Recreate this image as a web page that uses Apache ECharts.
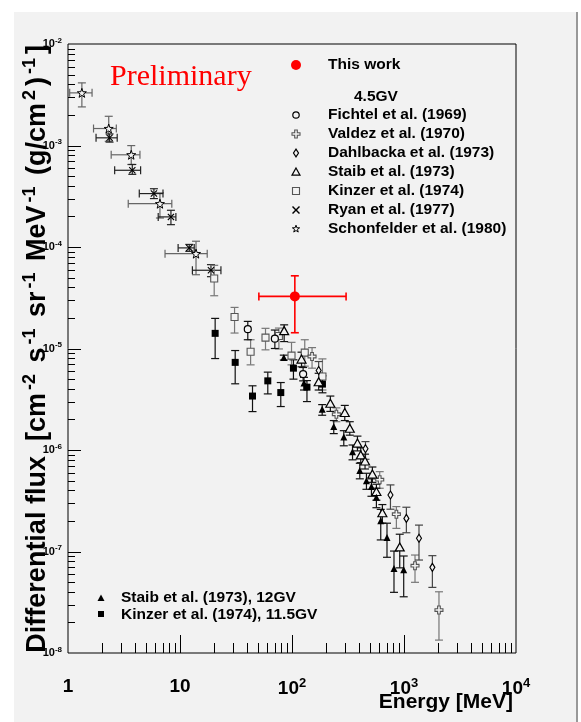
<!DOCTYPE html>
<html><head><meta charset="utf-8">
<script src="https://cdn.jsdelivr.net/npm/echarts@6/dist/echarts.min.js"></script>
<style>html,body{margin:0;padding:0;background:#fff}#c{width:581px;height:722px}</style>
</head><body><div id="c"></div>
<script>
// ---- data: [Energy MeV, flux, fluxLow, fluxHigh, (energyLow, energyHigh)] ----
const thisWork = [[106, 3.26e-5, 1.43e-5, 5.2e-5, 50.6, 304]];
const fichtel = [[40.3,1.55e-5,1.22e-5,1.85e-5],[70.3,1.25e-5,1.0e-5,1.52e-5],[125.7,5.6e-6,4.8e-6,6.5e-6]];
const valdez = [[151,8.34e-6,6.4e-6,1.02e-5],[249,2.25e-6,1.9e-6,2.6e-6],[607,5.1e-7,4.2e-7,6.12e-7],[855,2.33e-7,1.69e-7,2.77e-7],[1254,7.24e-8,4.97e-8,9.23e-8],[2052,2.65e-8,1.34e-8,4.01e-8]];
const dahlbacka = [[173,6.07e-6,4.39e-6,7.44e-6],[453,1.03e-6,8.1e-7,1.21e-6],[757,3.6e-7,2.61e-7,4.53e-7],[1050,2.12e-7,1.53e-7,2.73e-7],[1361,1.35e-7,8.24e-8,1.82e-7],[1792,6.98e-8,4.43e-8,9.1e-8]];
const staib45 = [[85.1,1.5e-5,1.17e-5,1.71e-5],[121.6,7.86e-6,6.6e-6,9.2e-6],[173,4.7e-6,3.9e-6,5.7e-6],[220,2.89e-6,2.4e-6,3.4e-6],[296,2.34e-6,1.95e-6,2.75e-6],[328,1.64e-6,1.4e-6,1.9e-6],[384,1.17e-6,9.8e-7,1.37e-6],[411,8.95e-7,7.5e-7,1.05e-6],[449,7.8e-7,6.5e-7,9.1e-7],[522,5.8e-7,4.8e-7,6.8e-7],[567,3.9e-7,3.2e-7,4.6e-7],[641,2.41e-7,1.9e-7,2.9e-7],[916,1.11e-7,6.9e-8,1.48e-7]];
const kinzer45 = [[20.2,4.9e-5,3.31e-5,6.6e-5],[30.7,2.04e-5,1.42e-5,2.54e-5],[42.7,9.3e-6,6.9e-6,1.22e-5],[58,1.28e-5,9.7e-6,1.58e-5],[76.4,1.33e-5,9.9e-6,1.59e-5],[99,8.5e-6,6.9e-6,1.15e-5],[130,9.1e-6,6.7e-6,1.22e-5],[187,5.3e-6,3.9e-6,7.9e-6]];
const ryan = [[2.35,1.19e-3,1.08e-3,1.30e-3,1.78,2.75],[3.75,5.7e-4,5.2e-4,6.5e-4,2.61,4.45],[5.85,3.36e-4,3.0e-4,3.75e-4,4.33,7.05],[8.3,1.98e-4,1.66e-4,2.30e-4,6.39,9.19],[12.1,9.8e-5,9.06e-5,1.06e-4,9.62,13.4],[18.9,5.9e-5,5.1e-5,6.7e-5,12.9,23.2]];
const schonfelder = [[1.33,3.3e-3,2.40e-3,4.14e-3,1.035,1.64],[2.31,1.47e-3,1.1e-3,1.94e-3,1.69,2.70],[3.67,8.1e-4,6.5e-4,9.98e-4,2.43,4.39],[6.62,2.67e-4,1.93e-4,3.41e-4,3.45,8.45],[13.9,8.6e-5,5.33e-5,1.14e-4,7.35,17.5]];
const staib12 = [[84.5,8.15e-6,7.7e-6,8.6e-6],[128,4.56e-6,3.9e-6,5.2e-6],[186,2.52e-6,2.2e-6,2.8e-6],[236,1.70e-6,1.45e-6,1.95e-6],[290,1.34e-6,1.1e-6,1.55e-6],[347,9.6e-7,8.0e-7,1.12e-6],[403,6.27e-7,5.2e-7,7.4e-7],[462,4.99e-7,4.1e-7,5.9e-7],[512,4.36e-7,3.5e-7,5.2e-7],[567,3.42e-7,2.7e-7,4.2e-7],[620,2.01e-7,1.3e-7,2.6e-7],[705,1.37e-7,8.77e-8,1.90e-7],[814,6.8e-8,3.96e-8,1.01e-7],[994,6.6e-8,3.58e-8,9.03e-8]];
const kinzer115 = [[20.6,1.41e-5,7.96e-6,1.98e-5],[31.1,7.3e-6,4.49e-6,9.55e-6],[44.4,3.4e-6,2.39e-6,4.29e-6],[60.8,4.8e-6,3.57e-6,5.85e-6],[79.4,3.68e-6,2.68e-6,4.62e-6],[103,6.4e-6,4.99e-6,7.74e-6],[136,4.16e-6,3.0e-6,4.83e-6],[187,4.46e-6,3.66e-6,5.38e-6]];
const xTickLabels = ['1','10','10^2','10^3','10^4'];
const legendTop = ['This work','4.5GV','Fichtel et al. (1969)','Valdez et al. (1970)','Dahlbacka et al. (1973)','Staib et al. (1973)','Kinzer et al. (1974)','Ryan et al. (1977)','Schonfelder et al. (1980)'];
const legendBottom = ['Staib et al. (1973), 12GV','Kinzer et al. (1974), 11.5GV'];

const BG = '#f2f2f2';
const FONT = '"Liberation Sans", Arial, Helvetica, sans-serif';
const STAR = 'path://M0,-10 L2.35,-3.24 L9.51,-3.09 L3.8,1.24 L5.88,8.09 L0,4 L-5.88,8.09 L-3.8,1.24 L-9.51,-3.09 L-2.35,-3.24 Z';
const PLUS = 'path://M-3,-9 L3,-9 L3,-3 L9,-3 L9,3 L3,3 L3,9 L-3,9 L-3,3 L-9,3 L-9,-3 L-3,-3 Z';
const XMK = 'path://M-9,-7 L-7,-9 L0,-2 L7,-9 L9,-7 L2,0 L9,7 L7,9 L0,2 L-7,9 L-9,7 L-2,0 Z';

function errSeries(data, color, lw) {
  return {
    type: 'custom', data: data, z: 2, silent: true, clip: false,
    dimensions: ['E','F','lo','hi','elo','ehi'],
    encode: {x: 0, y: 1},
    renderItem: function (params, api) {
      const E = api.value(0), F = api.value(1), lo = api.value(2), hi = api.value(3), elo = api.value(4), ehi = api.value(5);
      const c = api.coord([E, F]);
      const st = {stroke: color, lineWidth: lw || 1.2};
      const ch = [];
      const L = (x1,y1,x2,y2) => ch.push({type:'line', shape:{x1,y1,x2,y2}, style: st});
      const cap = 4;
      if (isFinite(lo) && isFinite(hi) && lo > 0) {
        const a = api.coord([E, hi]), b = api.coord([E, lo]);
        L(c[0], a[1], c[0], b[1]);
        L(c[0]-cap, a[1], c[0]+cap, a[1]);
        L(c[0]-cap, b[1], c[0]+cap, b[1]);
      }
      if (isFinite(elo) && isFinite(ehi) && elo > 0) {
        const a = api.coord([elo, F]), b = api.coord([ehi, F]);
        L(a[0], c[1], b[0], c[1]);
        L(a[0], c[1]-cap, a[0], c[1]+cap);
        L(b[0], c[1]-cap, b[0], c[1]+cap);
      }
      return {type: 'group', children: ch};
    }
  };
}
function mkSeries(name, data, symbol, size, fill, border, bw) {
  return {
    name: name, type: 'scatter', z: 3, data: data.map(r => [r[0], r[1]]),
    symbol: symbol, symbolSize: size,
    itemStyle: {color: fill, borderColor: border, borderWidth: bw || 0, opacity: 1},
    emphasis: {disabled: true}
  };
}

const ticksSeries = {
  type: 'custom', data: [[1, 1e-8]], z: 4, silent: true, clip: false,
  renderItem: function (params, api) {
    const ch = [];
    const st = {stroke: '#000', lineWidth: 1};
    const y0 = api.coord([1, 1e-8])[1];
    const x0 = api.coord([1, 1e-8])[0];
    for (let d = 0; d < 4; d++) for (let k = 1; k <= 9; k++) {
      const v = k * Math.pow(10, d);
      if (v <= 1) continue;
      const x = Math.round(api.coord([v, 1e-8])[0]) + 0.5;
      const len = k === 1 ? 18 : 10;
      ch.push({type: 'line', shape: {x1: x, y1: y0, x2: x, y2: y0 - len}, style: st});
    }
    for (let d = -8; d < -2; d++) for (let k = 1; k <= 9; k++) {
      const v = k * Math.pow(10, d);
      if (v <= 1e-8) continue;
      const y = Math.round(api.coord([1, v])[1]) + 0.5;
      const len = k === 1 ? 13 : 7;
      ch.push({type: 'line', shape: {x1: x0, y1: y, x2: x0 + len, y2: y}, style: st});
    }
    return {type: 'group', children: ch};
  }
};

// legend graphics
const LX = 296, TX = 328;
const rows = [65, 97, 115, 134, 153, 172, 191, 210, 229];
const lg = [];
function ltxt(x, y, t, size) {
  lg.push({type: 'text', x: x, y: y, z: 10, style: {text: t, font: 'bold ' + (size||15.5) + 'px ' + FONT, fill: '#000', textVerticalAlign: 'middle', textAlign: 'left'}});
}
legendTop.forEach((t, i) => ltxt(i === 1 ? 354 : TX, rows[i], t));
lg.push({type: 'circle', shape: {cx: LX, cy: rows[0], r: 5}, style: {fill: '#ff0000'}, z: 10});
lg.push({type: 'circle', shape: {cx: LX, cy: rows[2], r: 3.2}, style: {fill: 'none', stroke: '#000', lineWidth: 1.2}, z: 10});
lg.push({type: 'polygon', shape: {points: [[-1.3,-4],[1.3,-4],[1.3,-1.3],[4,-1.3],[4,1.3],[1.3,1.3],[1.3,4],[-1.3,4],[-1.3,1.3],[-4,1.3],[-4,-1.3],[-1.3,-1.3]].map(p => [LX+p[0], rows[3]+p[1]])}, style: {fill: 'none', stroke: '#555', lineWidth: 1.1}, z: 10});
lg.push({type: 'polygon', shape: {points: [[0,-3.8],[2.5,0],[0,3.8],[-2.5,0]].map(p => [LX+p[0], rows[4]+p[1]])}, style: {fill: 'none', stroke: '#000', lineWidth: 1.2}, z: 10});
lg.push({type: 'polygon', shape: {points: [[0,-4],[4,3.2],[-4,3.2]].map(p => [LX+p[0], rows[5]+p[1]])}, style: {fill: 'none', stroke: '#000', lineWidth: 1.2}, z: 10});
lg.push({type: 'rect', shape: {x: LX-3.5, y: rows[6]-3.5, width: 7, height: 7}, style: {fill: 'none', stroke: '#555', lineWidth: 1.1}, z: 10});
lg.push({type: 'polygon', shape: {points: [[-4,-3],[-3,-4],[0,-1],[3,-4],[4,-3],[1,0],[4,3],[3,4],[0,1],[-3,4],[-4,3],[-1,0]].map(p => [LX+p[0], rows[7]+p[1]])}, style: {fill: '#000'}, z: 10});
lg.push({type: 'polygon', shape: {points: [[0,-10],[2.35,-3.24],[9.51,-3.09],[3.8,1.24],[5.88,8.09],[0,4],[-5.88,8.09],[-3.8,1.24],[-9.51,-3.09],[-2.35,-3.24]].map(p => [LX+p[0]*0.38, rows[8]+p[1]*0.38])}, style: {fill: 'none', stroke: '#000', lineWidth: 1}, z: 10});
// bottom legend
lg.push({type: 'polygon', shape: {points: [[0,-3.5],[3.5,3],[-3.5,3]].map(p => [101+p[0], 598+p[1]])}, style: {fill: '#000'}, z: 10});
lg.push({type: 'rect', shape: {x: 98, y: 611, width: 6, height: 6}, style: {fill: '#000'}, z: 10});
ltxt(121, 598, legendBottom[0]);
ltxt(121, 614.5, legendBottom[1]);

const chart = echarts.init(document.getElementById('c'), null, {renderer: 'canvas'});
chart.setOption({
  backgroundColor: '#fff',
  animation: false,
  grid: {left: 68, top: 44, width: 448, height: 609, show: true, backgroundColor: BG, borderColor: '#000', borderWidth: 1, containLabel: false},
  xAxis: {
    type: 'log', logBase: 10, min: 1, max: 10000, splitNumber: 4,
    axisLine: {show: false}, axisTick: {show: false}, splitLine: {show: false}, minorTick: {show: false},
    axisLabel: {
      margin: 24, showMinLabel: true, showMaxLabel: true,
      formatter: function (v) {
        const e = Math.round(Math.log10(v));
        const t = xTickLabels[e];
        if (t.indexOf('^') < 0) return '{n|' + t + '}';
        const p = t.split('^');
        return '{n|' + p[0] + '}{s|' + p[1] + '}';
      },
      rich: {
        n: {fontSize: 19, fontWeight: 'bold', fontFamily: FONT, color: '#000'},
        s: {fontSize: 13, fontWeight: 'bold', fontFamily: FONT, color: '#000', padding: [0, 0, 11, 0]}
      }
    }
  },
  yAxis: {
    type: 'log', logBase: 10, min: 1e-8, max: 1e-2, splitNumber: 6,
    axisLine: {show: false}, axisTick: {show: false}, splitLine: {show: false}, minorTick: {show: false},
    axisLabel: {
      margin: 6, showMinLabel: true, showMaxLabel: true,
      formatter: function (v) {
        const e = Math.round(Math.log10(v));
        return '{n|10}{s|' + e + '}';
      },
      rich: {
        n: {fontSize: 11, fontWeight: 'bold', fontFamily: FONT, color: '#000'},
        s: {fontSize: 8, fontWeight: 'bold', fontFamily: FONT, color: '#000', padding: [0, 0, 7, 0]}
      }
    }
  },
  graphic: [
    {type: 'rect', z: -10, silent: true, shape: {x: 14, y: 12, width: 563, height: 710}, style: {fill: BG}},
    {type: 'line', z: -9, silent: true, shape: {x1: 577, y1: 12, x2: 577, y2: 722}, style: {stroke: '#999', lineWidth: 2}},
    {type: 'text', x: 110, y: 77, z: 10, style: {text: 'Preliminary', font: '30px "Liberation Serif", "Times New Roman", serif', fill: '#ff0000', textVerticalAlign: 'middle'}},
    {type: 'text', x: 513, y: 702, z: 10, style: {text: 'Energy [MeV]', font: 'bold 21px ' + FONT, fill: '#000', textAlign: 'right', textVerticalAlign: 'middle'}},
    {type: 'text', x: 38, y: 45, rotation: Math.PI / 2, z: 10, style: {
      text: '{t|Differential flux  [cm}{s|-2}{t| s}{s|-1}{t| sr}{s|-1}{t| MeV}{s|-1}{t| (g/cm}{s|2}{t|)}{s|-1}{t|]}',
      textAlign: 'right', textVerticalAlign: 'middle',
      rich: {
        t: {fontSize: 27, fontWeight: 'bold', fontFamily: FONT, fill: '#000'},
        s: {fontSize: 18, fontWeight: 'bold', fontFamily: FONT, fill: '#000', padding: [0, 4, 15, 3]}
      }
    }}
  ].concat(lg),
  series: [
    ticksSeries,
    errSeries(schonfelder, '#666'), mkSeries('Schonfelder et al. (1980)', schonfelder, STAR, [9, 9], BG, '#000', 1),
    errSeries(ryan, '#222'), mkSeries('Ryan et al. (1977)', ryan, XMK, [7, 7], '#000', '#000', 0),
    errSeries(kinzer45, '#777'), mkSeries('Kinzer et al. (1974)', kinzer45, 'rect', [7, 7], BG, '#555', 1.1),
    errSeries(kinzer115, '#111'), mkSeries('Kinzer et al. (1974), 11.5GV', kinzer115, 'rect', [7, 7], '#000', '#000', 0),
    errSeries(fichtel, '#111'), mkSeries('Fichtel et al. (1969)', fichtel, 'circle', [7, 7], BG, '#000', 1.2),
    errSeries(valdez, '#777'), mkSeries('Valdez et al. (1970)', valdez, PLUS, [8, 8], BG, '#555', 1.1),
    errSeries(dahlbacka, '#444'), mkSeries('Dahlbacka et al. (1973)', dahlbacka, 'diamond', [5, 8], BG, '#000', 1.2),
    errSeries(staib45, '#111'), mkSeries('Staib et al. (1973)', staib45, 'triangle', [9, 8], BG, '#000', 1.2),
    errSeries(staib12, '#111'), mkSeries('Staib et al. (1973), 12GV', staib12, 'triangle', [7, 7], '#000', '#000', 0),
    errSeries(thisWork, '#ff0000', 1.6), mkSeries('This work', thisWork, 'circle', [10, 10], '#ff0000', '#ff0000', 0)
  ]
});
</script></body></html>
